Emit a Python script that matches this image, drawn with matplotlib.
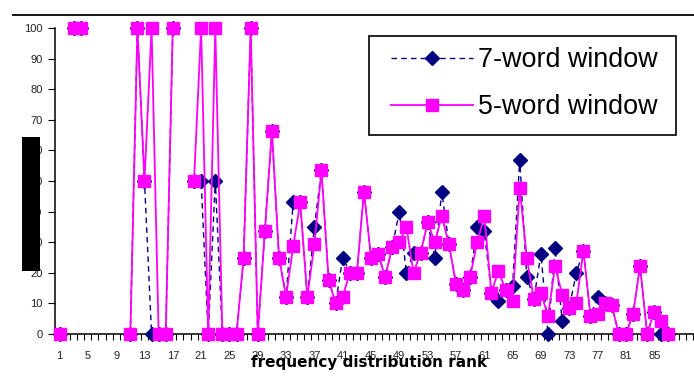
import numpy as np
import matplotlib
matplotlib.use('Agg')
import matplotlib.pyplot as plt
from matplotlib.patches import Rectangle
from matplotlib.lines import Line2D

nan = np.nan

rank = np.arange(1, 88)

# 7-word window (gaps = nan)
win7 = [0, nan, 100, 100, nan, nan, nan, nan, nan, nan,
        0, 100, 50, 0, 0, 0, 100, nan, nan, 50,
        50, 0, 50, 0, 0, 0, 25, 100, 0, 33.6,
        66.4, 25, 12.2, 43, 43, 12, 35, 53.6, 17.8, 10,
        25, 20, 20, 46.5, 25, 26.3, 18.6, 28.5, 40, 20,
        26.5, 26.4, 36.5, 25, 46.5, 29.3, 16.5, 14.4, 18.7, 35,
        33.6, 13.5, 10.8, 14.4, 15.8, 57, 18.7, 11.3, 26.3, 0,
        28, 4.2, 8.6, 20, 27.2, 5.9, 12.2, 10.1, 9.4, 0,
        0, 6.4, 22.2, 0, 7.3, 0, 0]

# 5-word window
win5 = [0, nan, 100, 100, nan, nan, nan, nan, nan, nan,
        0, 100, 50, 100, 0, 0, 100, nan, nan, 50,
        100, 0, 100, 0, 0, 0, 25, 100, 0, 33.6,
        66.4, 25, 12.2, 28.7, 43, 12, 29.3, 53.6, 17.8, 10,
        12.2, 20, 20, 46.5, 25, 26.3, 18.6, 28.5, 30, 35,
        20, 26.4, 36.5, 30, 38.6, 29.3, 16.5, 14.4, 18.7, 30,
        38.5, 13.5, 20.7, 14.4, 10.8, 47.8, 25, 11.3, 13.5, 5.9,
        22.2, 12.9, 8.6, 10, 27.2, 5.9, 6.5, 10.1, 9.4, 0,
        0, 6.4, 22.2, 0, 7.3, 4.3, 0]

xtick_vals = list(range(1, 86, 4))
ytick_vals = list(range(0, 101, 10))

W, H = 694, 380
fig = plt.figure(figsize=(W / 100, H / 100), dpi=100)
ax = fig.add_axes([55 / W, 46 / H, 639 / W, 306 / H])

l7, = ax.plot(rank, win7, color='#000080', linestyle=(0, (4, 3)), linewidth=1.0,
              marker='D', markersize=7, markerfacecolor='#000080',
              markeredgecolor='#000080', clip_on=False, zorder=3)
l5, = ax.plot(rank, win5, color='#ff00ff', linestyle='-', linewidth=1.3,
              marker='s', markersize=8, markerfacecolor='#ff00ff',
              markeredgecolor='#ff00ff', clip_on=False, zorder=4)

ax.set_xlim(0.36, 90.62)
ax.set_ylim(0, 100)

ax.spines['top'].set_visible(False)
ax.spines['right'].set_visible(False)
for s in ['left', 'bottom']:
    ax.spines[s].set_linewidth(1.1)

ax.set_yticks(ytick_vals)
ax.set_xticks(xtick_vals)
ax.set_xticks(np.arange(0.5, 91, 1), minor=True)
ax.tick_params(axis='x', which='major', length=0, pad=12)
ax.tick_params(axis='x', which='minor', length=4, width=0.8, direction='out')
ax.tick_params(axis='y', length=5, width=0.8, direction='out', pad=4)
for lab in ax.get_xticklabels() + ax.get_yticklabels():
    lab.set_fontfamily('Liberation Sans')
    lab.set_fontsize(8)
    lab.set_color('#222222')

ax.set_xlabel('frequency distribution rank', fontfamily='DejaVu Sans',
              fontweight='bold', fontsize=11, va='top')
ax.xaxis.set_label_coords((369.5 - 55) / 639, (334 - 355) / 306)

# legend: frame drawn separately
fig.add_artist(Rectangle((369 / W, 1 - 135 / H), 307 / W, 99 / H,
                         transform=fig.transFigure, facecolor='white',
                         edgecolor='black', linewidth=1.2, zorder=5))
leg = fig.legend([l7, l5], ['7-word window', '5-word window'],
                 loc='upper left', bbox_to_anchor=(391 / W, 1 - 47 / H),
                 bbox_transform=fig.transFigure, frameon=False,
                 borderpad=0, borderaxespad=0, handlelength=3.04,
                 handletextpad=0.2, labelspacing=0.78,
                 prop={'family': 'Liberation Sans', 'size': 19.4})
leg.set_zorder(6)

# chart border line on top and the black box over the y labels
fig.add_artist(Line2D([13 / W, 1], [1 - 15 / H, 1 - 15 / H],
                      transform=fig.transFigure, color='black', linewidth=1.3))
fig.add_artist(Rectangle((22 / W, 1 - 271 / H), 18 / W, 134 / H,
                         transform=fig.transFigure, facecolor='black',
                         edgecolor='none', zorder=10))

fig.savefig('out.png', dpi=100)
